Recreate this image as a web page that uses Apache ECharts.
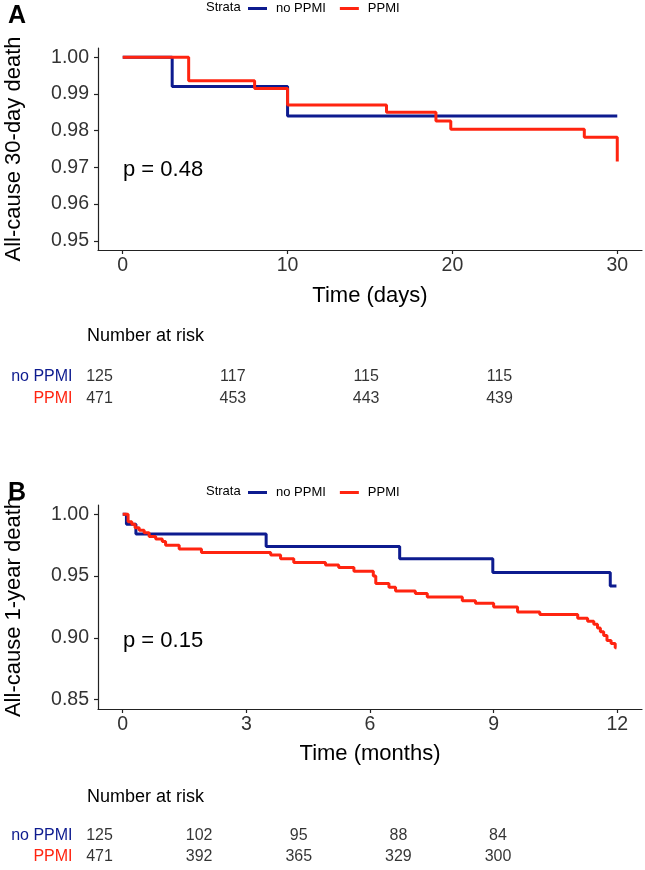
<!DOCTYPE html>
<html>
<head>
<meta charset="utf-8">
<script src="https://cdn.jsdelivr.net/npm/echarts@6/dist/echarts.min.js"></script>
<style>
html,body{margin:0;padding:0;background:#fff;}
#chart{width:645px;height:870px;}
</style>
</head>
<body>
<div id="chart"></div>
<script>
// ---------- Data ----------
const seriesNames = ['no PPMI', 'PPMI'];

// Panel A: 30-day survival (time in days)
const timesA_no = [0, 3, 10, 30];
const survA_no  = [1.000, 0.992, 0.984, 0.984];
const timesA_pp = [0, 4, 8, 10, 16, 19, 19.9, 28, 30];
const survA_pp  = [1.000, 0.9936, 0.9915, 0.987, 0.985, 0.9826, 0.9804, 0.9782, 0.9716];

// Panel B: 1-year survival (time in months)
const timesB_no = [0, 0.09, 0.32, 3.48, 6.72, 8.98, 11.83, 11.98];
const survB_no  = [1.000, 0.992, 0.984, 0.974, 0.964, 0.953, 0.942, 0.942];
const timesB_pp = [0, 0.13, 0.22, 0.30, 0.40, 0.52, 0.64, 0.80, 0.96, 1.04, 1.37, 1.91,
                   3.59, 3.83, 4.15, 4.92, 5.24, 5.61, 6.08, 6.14, 6.46, 6.62, 7.10, 7.39,
                   8.24, 8.56, 9.00, 9.58, 10.12, 11.04, 11.28, 11.43, 11.52, 11.59, 11.67,
                   11.75, 11.85, 11.95, 11.98];
const survB_pp  = [1.000, 0.994, 0.992, 0.989, 0.987, 0.985, 0.982, 0.980, 0.978, 0.975, 0.972, 0.969,
                   0.967, 0.964, 0.961, 0.959, 0.957, 0.954, 0.950, 0.944, 0.941, 0.938, 0.936, 0.933,
                   0.930, 0.928, 0.925, 0.921, 0.919, 0.916, 0.9135, 0.911, 0.908, 0.905, 0.902,
                   0.898, 0.8955, 0.892, 0.892];

// Tick labels
const xTicksA = [0, 10, 20, 30];
const yTicksA = [0.95, 0.96, 0.97, 0.98, 0.99, 1.00];
const xTicksB = [0, 3, 6, 9, 12];
const yTicksB = [0.85, 0.90, 0.95, 1.00];

// Number at risk tables
const riskTimesA = [0, 10, 20, 30];
const riskNoA    = [125, 117, 115, 115];
const riskYesA   = [471, 453, 443, 439];
const riskTimesB = [0, 3, 6, 9, 12];
const riskNoB    = [125, 102, 95, 88, 84];
const riskYesB   = [471, 392, 365, 329, 300];

// Text
const pValueA = 'p = 0.48';
const pValueB = 'p = 0.15';

// ---------- Styles ----------
const BLUE = '#0d1b8f';
const RED = '#ff2410';
const FONT = '"Liberation Sans", Arial, Helvetica, sans-serif';
const AXIS_COLOR = '#222';

function pairs(ts, vs) { return ts.map((t, i) => [t, vs[i]]); }

function plotXAxis(gridIndex, min, max, ticks, name, gap) {
  return {
    gridIndex, type: 'value', min, max,
    name, nameLocation: 'middle', nameGap: gap,
    nameTextStyle: { fontFamily: FONT, fontSize: 22, color: '#000' },
    axisLine: { show: true, onZero: false, lineStyle: { color: AXIS_COLOR, width: 1.2 } },
    axisTick: { show: true, length: 4, customValues: ticks, lineStyle: { color: AXIS_COLOR, width: 1.2 } },
    axisLabel: { customValues: ticks, margin: 6, fontFamily: FONT, fontSize: 19.5, color: '#333',
                 formatter: v => String(v) },
    splitLine: { show: false }
  };
}
function plotYAxis(gridIndex, min, max, ticks, name) {
  return {
    gridIndex, type: 'value', min, max,
    name, nameLocation: 'middle', nameGap: 73,
    nameTextStyle: { fontFamily: FONT, fontSize: 22, color: '#000' },
    axisLine: { show: true, onZero: false, lineStyle: { color: AXIS_COLOR, width: 1.2 } },
    axisTick: { show: true, length: 4, customValues: ticks, lineStyle: { color: AXIS_COLOR, width: 1.2 } },
    axisLabel: { customValues: ticks, margin: 9, fontFamily: FONT, fontSize: 19.5, color: '#333',
                 formatter: v => Number(v).toFixed(2) },
    splitLine: { show: false }
  };
}
function riskXAxis(gridIndex, min, max) {
  return { gridIndex, type: 'value', min, max, show: false };
}
function riskYAxis(gridIndex) {
  return {
    gridIndex, type: 'category', data: seriesNames, inverse: true,
    axisLine: { show: false }, axisTick: { show: false }, splitLine: { show: false },
    axisLabel: {
      interval: 0, hideOverlap: false,
      margin: 27, fontFamily: FONT, fontSize: 16,
      formatter: v => v === 'no PPMI' ? '{b|no PPMI}' : '{r|PPMI}',
      rich: { b: { color: BLUE, fontFamily: FONT, fontSize: 16 }, r: { color: RED, fontFamily: FONT, fontSize: 16 } }
    }
  };
}
function kmSeries(name, xi, yi, data, color) {
  return {
    name, type: 'line', step: 'end', xAxisIndex: xi, yAxisIndex: yi,
    data, symbol: 'none', showSymbol: false, clip: true, silent: true,
    lineStyle: { color, width: 3 }, itemStyle: { color }, animation: false
  };
}
function riskSeries(xi, yi, times, vals, row) {
  return {
    type: 'scatter', xAxisIndex: xi, yAxisIndex: yi, silent: true, animation: false,
    data: times.map((t, i) => [t, row, vals[i]]),
    symbolSize: 1, itemStyle: { color: 'rgba(0,0,0,0)' },
    label: { show: true, position: 'inside', formatter: p => String(p.value[2]),
             fontFamily: FONT, fontSize: 16, color: '#000' },
    labelLayout: { hideOverlap: false }
  };
}
function legend(top) {
  return {
    data: seriesNames, left: 248, top, padding: 0, itemGap: 14,
    icon: 'rect', itemWidth: 19, itemHeight: 3, selectedMode: false,
    textStyle: { fontFamily: FONT, fontSize: 13, color: '#000', padding: [0, 0, 0, 4] }
  };
}
function txt(left, top, text, size, weight) {
  return {
    type: 'text', left, top,
    style: { text, fontFamily: FONT, fontSize: size, fontWeight: weight || 'normal', fill: '#000' }
  };
}
function grid(left, top, width, height) {
  return { left, top, width, height, containLabel: false, outerBoundsMode: 'none' };
}

const chart = echarts.init(document.getElementById('chart'), null, { renderer: 'canvas' });
chart.setOption({
  animation: false,
  backgroundColor: '#fff',
  grid: [
    grid(98, 48, 544, 202),
    grid(99.5, 366, 400, 44),
    grid(98, 505, 544, 204),
    grid(99.5, 825, 398.5, 42)
  ],
  xAxis: [
    plotXAxis(0, -1.5, 31.5, xTicksA, 'Time (days)', 35),
    riskXAxis(1, 0, 30),
    plotXAxis(2, -0.6, 12.6, xTicksB, 'Time (months)', 34),
    riskXAxis(3, 0, 12)
  ],
  yAxis: [
    plotYAxis(0, 0.9475, 1.0025, yTicksA, 'All-cause 30-day death'),
    riskYAxis(1),
    plotYAxis(2, 0.8425, 1.0075, yTicksB, 'All-cause 1-year death'),
    riskYAxis(3)
  ],
  legend: [legend(2), legend(486)],
  series: [
    kmSeries('no PPMI', 0, 0, pairs(timesA_no, survA_no), BLUE),
    kmSeries('PPMI', 0, 0, pairs(timesA_pp, survA_pp), RED),
    kmSeries('no PPMI', 2, 2, pairs(timesB_no, survB_no), BLUE),
    kmSeries('PPMI', 2, 2, pairs(timesB_pp, survB_pp), RED),
    riskSeries(1, 1, riskTimesA, riskNoA, 0),
    riskSeries(1, 1, riskTimesA, riskYesA, 1),
    riskSeries(3, 3, riskTimesB, riskNoB, 0),
    riskSeries(3, 3, riskTimesB, riskYesB, 1)
  ],
  graphic: [
    txt(8, 4, 'A', 25, 'bold'),
    txt(8, 481, 'B', 25, 'bold'),
    txt(206, 1, 'Strata', 13),
    txt(206, 485, 'Strata', 13),
    txt(123, 159, pValueA, 22),
    txt(123, 630, pValueB, 22),
    txt(87, 327, 'Number at risk', 18),
    txt(87, 788, 'Number at risk', 18)
  ]
});
</script>
</body>
</html>
